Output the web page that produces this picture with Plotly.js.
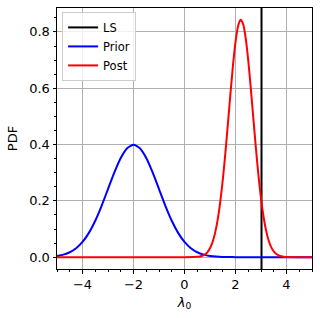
<!DOCTYPE html>
<html><head><meta charset="utf-8">
<script src="https://cdn.plot.ly/plotly-3.0.1.min.js"></script>
<style>html,body{margin:0;padding:0;background:#fff}</style>
</head><body>
<div id="chart" style="width:320px;height:318px"></div>
<script>
// Least-squares estimate (vertical line)
const lsValue = 3.02;
const lsY = [-1, 2];

// Prior PDF
const priorX = [-5,-4.75,-4.5,-4.25,-4,-3.75,-3.5,-3.25,-3,-2.75,-2.5,-2.25,-2,-1.75,-1.5,-1.25,-1,-0.75,-0.5,-0.25,0,0.25,0.5,0.75,1,1.25,1.5,1.75,2,2.5,3,3.5,4,4.5,5];
const priorY = [0.0044,0.0091,0.0175,0.0317,0.054,0.0863,0.1295,0.1826,0.242,0.3011,0.3521,0.3867,0.399,0.3867,0.3521,0.3011,0.242,0.1826,0.1295,0.0863,0.054,0.0317,0.0175,0.0091,0.0044,0.002,0.0009,0.0004,0.0001,0,0,0,0,0,0];

// Posterior PDF
const postX = [-5,-2,0,0.5,0.6,0.7,0.8,0.9,1.0,1.1,1.2,1.3,1.4,1.5,1.6,1.7,1.8,1.9,2.0,2.1,2.2,2.3,2.4,2.5,2.6,2.7,2.8,2.9,3.0,3.1,3.2,3.3,3.4,3.5,3.6,3.7,3.8,3.9,4.0,4.5,5];
const postY = [0,0,0,0.0012,0.0026,0.0052,0.0099,0.0182,0.032,0.0537,0.0863,0.1325,0.1946,0.2734,0.3669,0.4715,0.579,0.6801,0.7638,0.8205,0.843,0.828,0.7777,0.6985,0.6001,0.493,0.3873,0.2909,0.209,0.1436,0.0943,0.0593,0.0356,0.0205,0.0112,0.0059,0.003,0.0014,0.0006,0,0];

const xTicks = [-4,-2,0,2,4];
const yTicks = [0,0.2,0.4,0.6,0.8];

const font = {family: "DejaVu Sans", size: 13, color: "#000"};

const traces = [
  {x: [lsValue, lsValue], y: lsY, mode: "lines", name: "LS", line: {color: "#000", width: 2}},
  {x: priorX, y: priorY, mode: "lines", name: "Prior", line: {color: "#0000ff", width: 2, shape: "spline", smoothing: 0.6}},
  {x: postX, y: postY, mode: "lines", name: "Post", line: {color: "#ff0000", width: 2, shape: "spline", smoothing: 0.6}}
];

const axisCommon = {
  showline: true, mirror: true, linecolor: "#000", linewidth: 1,
  ticks: "outside", ticklen: 3.5, tickwidth: 1, tickcolor: "#000",
  showgrid: true, gridcolor: "#b0b0b0", gridwidth: 1,
  zeroline: false, tickfont: font
};

const layout = {
  width: 320, height: 318,
  margin: {l: 57, r: 8, t: 8, b: 49},
  paper_bgcolor: "#fff", plot_bgcolor: "#fff",
  font: font,
  showlegend: true,
  legend: {x: 0.02, y: 0.985, xanchor: "left", yanchor: "top",
    bgcolor: "rgba(255,255,255,0.8)", bordercolor: "#cccccc", borderwidth: 1,
    font: {family: "DejaVu Sans", size: 11.5, color: "#000"}, tracegroupgap: 0},
  xaxis: Object.assign({}, axisCommon, {
    range: [-5, 5], tickvals: xTicks, ticktext: xTicks.map(v => v < 0 ? "\u2212" + Math.abs(v) : String(v)),
    minor: {ticks: "outside", dtick: 0.5, tick0: 0, ticklen: 2, tickwidth: 1, tickcolor: "#000", showgrid: false},
    title: {text: "<i>λ</i><sub>0</sub>", font: font, standoff: 6}
  }),
  yaxis: Object.assign({}, axisCommon, {
    range: [-0.042, 0.885], tickvals: yTicks, ticktext: yTicks.map(v => v.toFixed(1)),
    minor: {ticks: "outside", dtick: 0.05, tick0: 0, ticklen: 2, tickwidth: 1, tickcolor: "#000", showgrid: false},
    title: {text: "PDF", font: font, standoff: 8}
  })
};

Plotly.newPlot("chart", traces, layout, {displayModeBar: false, staticPlot: true});
</script>
</body></html>
